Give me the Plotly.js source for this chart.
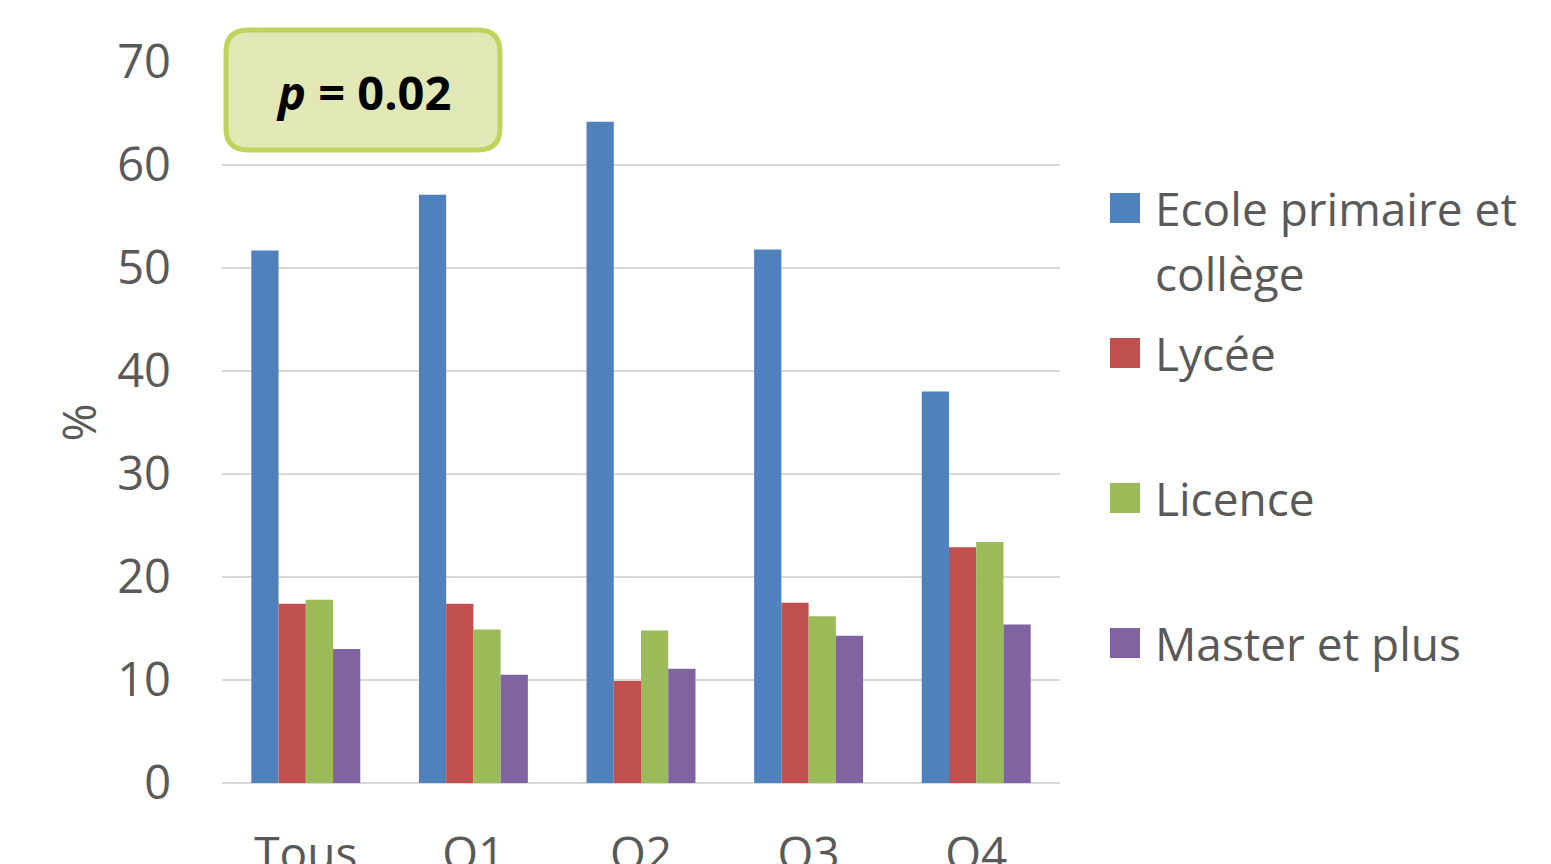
<!DOCTYPE html>
<html>
<head>
<meta charset="utf-8">
<script src="https://cdn.plot.ly/plotly-3.0.1.min.js"></script>
<style>
  html, body { margin: 0; padding: 0; background: #fff; }
  #chart { width: 1551px; height: 864px; }
</style>
</head>
<body>
<div id="chart"></div>
<script>
// categories and series
var categories = ['Tous', 'Q1', 'Q2', 'Q3', 'Q4'];
var seriesNames = ['Ecole primaire et collège', 'Lycée', 'Licence', 'Master et plus'];
var legendLines = [['Ecole primaire et', 'collège'], ['Lycée'], ['Licence'], ['Master et plus']];
var ecole = [51.7, 57.1, 64.2, 51.8, 38.0];
var lycee = [17.4, 17.4, 9.9, 17.5, 22.9];
var licence = [17.8, 14.9, 14.8, 16.2, 23.4];
var master = [13.0, 10.5, 11.1, 14.3, 15.4];
var colours = ['#4f81bd', '#c0504d', '#9bbb59', '#8064a2'];
var pLabel = '<b><i>p</i> = 0.02</b>';

var FONT = 'Open Sans, Liberation Sans, sans-serif';
var GREY = '#595959';

// plot area in pixels (for the paper-coordinate helpers)
var L = 222, R = 1060, T = 62, B = 783;
function px(x) { return (x - L) / (R - L); }
function py(y) { return (B - y) / (B - T); }

var values = [ecole, lycee, licence, master];

var traceList = [];
for (var i = 0; i < values.length; i++) {
    traceList.push({
        type: 'bar',
        name: seriesNames[i],
        x: categories,
        y: values[i],
        showlegend: false,
        marker: { color: colours[i], line: { width: 0 } },
        hoverinfo: 'x+y+name'
    });
}

// rounded box behind the p-value label
function roundedBox(x0, y0, x1, y1, r) {
    var rx = r / (R - L), ry = r / (B - T);
    var a = px(x0), b = px(x1), top = py(y0), bot = py(y1);
    return 'M' + (a + rx) + ',' + top +
        ' L' + (b - rx) + ',' + top +
        ' Q' + b + ',' + top + ' ' + b + ',' + (top - ry) +
        ' L' + b + ',' + (bot + ry) +
        ' Q' + b + ',' + bot + ' ' + (b - rx) + ',' + bot +
        ' L' + (a + rx) + ',' + bot +
        ' Q' + a + ',' + bot + ' ' + a + ',' + (bot + ry) +
        ' L' + a + ',' + (top - ry) +
        ' Q' + a + ',' + top + ' ' + (a + rx) + ',' + top + ' Z';
}

var shapes = [{
    type: 'path',
    xref: 'paper',
    yref: 'paper',
    path: roundedBox(226, 30, 500, 150, 22),
    fillcolor: '#e1e8b5',
    line: { color: '#c0d35c', width: 5 },
    layer: 'above'
}];

var annotations = [{
    xref: 'paper',
    yref: 'paper',
    x: px(363),
    y: py(92),
    xanchor: 'center',
    yanchor: 'middle',
    text: pLabel,
    showarrow: false,
    font: { family: FONT, size: 47, color: '#000000' }
}];

// legend: square swatch + label lines, one slot per series
var legendTops = [208, 353, 498, 643];
var LINE_GAP = 65;
for (var k = 0; k < seriesNames.length; k++) {
    var yc = legendTops[k];
    shapes.push({
        type: 'rect',
        xref: 'paper',
        yref: 'paper',
        x0: px(1110), x1: px(1140),
        y0: py(yc - 15), y1: py(yc + 15),
        fillcolor: colours[k],
        line: { width: 0 }
    });
    for (var j = 0; j < legendLines[k].length; j++) {
        annotations.push({
            xref: 'paper',
            yref: 'paper',
            x: px(1153),
            y: py(yc + j * LINE_GAP),
            xanchor: 'left',
            yanchor: 'middle',
            text: legendLines[k][j],
            showarrow: false,
            font: { family: FONT, size: 46, color: GREY }
        });
    }
}

var layout = {
    width: 1551,
    height: 864,
    margin: { l: L, r: 1551 - R, t: T, b: 864 - B },
    paper_bgcolor: '#ffffff',
    plot_bgcolor: '#ffffff',
    font: { family: FONT, color: GREY, size: 44 },
    barmode: 'group',
    bargap: 0.35,
    bargroupgap: 0,
    showlegend: false,
    xaxis: {
        type: 'category',
        tickfont: { size: 46, color: GREY },
        ticks: '',
        ticklabelstandoff: 40,
        showline: false,
        showgrid: false,
        fixedrange: true
    },
    yaxis: {
        range: [0, 70],
        dtick: 10,
        tickfont: { size: 47, color: GREY },
        ticks: '',
        ticklabelstandoff: 50,
        showgrid: true,
        gridcolor: '#d9d9d9',
        gridwidth: 2,
        zeroline: true,
        zerolinecolor: '#d9d9d9',
        zerolinewidth: 2,
        title: { text: '%', font: { size: 46, color: GREY }, standoff: 6 },
        fixedrange: true
    },
    shapes: shapes,
    annotations: annotations
};

Plotly.newPlot('chart', traceList, layout, { displayModeBar: false, staticPlot: true });
</script>
</body>
</html>
